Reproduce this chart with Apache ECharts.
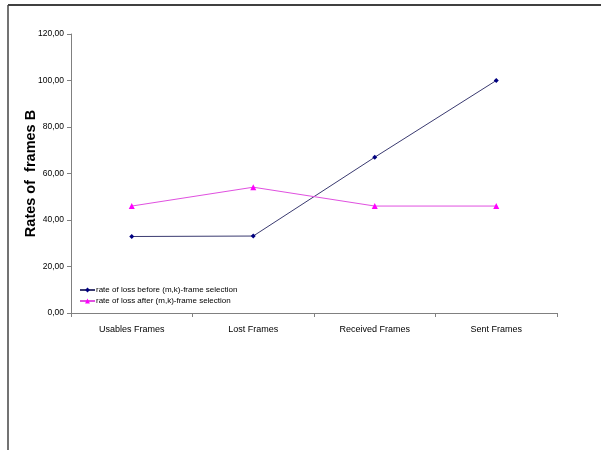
<!DOCTYPE html>
<html>
<head>
<meta charset="utf-8">
<script src="https://cdn.jsdelivr.net/npm/echarts@6/dist/echarts.min.js"></script>
<style>
  html, body { margin: 0; padding: 0; background: #fff; }
  #chart { width: 601px; height: 450px; }
</style>
</head>
<body>
<div id="chart"></div>
<script>
// Frame categories along the x axis
const categories = ['Usables Frames', 'Lost Frames', 'Received Frames', 'Sent Frames'];

// Loss rates before and after the (m,k)-frame selection
const lossBefore = [32.9, 33.1, 67.0, 100.0];
const lossAfter = [46.0, 54.1, 46.0, 46.0];

const seriesNames = [
  'rate of loss before (m,k)-frame selection',
  'rate of loss after (m,k)-frame selection'
];

// Y axis scale
const yMin = 0;
const yMax = 120;
const yStep = 20;

const chart = echarts.init(document.getElementById('chart'), null, { renderer: 'canvas' });

const baseFont = '"Liberation Sans", Arial, sans-serif';

chart.setOption({
  backgroundColor: '#ffffff',
  animation: false,
  graphic: [
    // frame around the chart area (top and left edges)
    { type: 'line', shape: { x1: 8, y1: 5, x2: 601, y2: 5 }, style: { stroke: '#000', lineWidth: 1.5 } },
    { type: 'line', shape: { x1: 8, y1: 5, x2: 8, y2: 450 }, style: { stroke: '#444', lineWidth: 1.5 } }
  ],
  grid: { left: 71, right: 44, top: 34, bottom: 137, containLabel: false },
  legend: {
    orient: 'vertical',
    left: 74,
    top: 281,
    itemGap: 3,
    itemWidth: 15,
    itemHeight: 6,
    textStyle: { fontFamily: baseFont, fontSize: 8, color: '#000', padding: [0, 0, 0, -4] },
    data: [seriesNames[0], seriesNames[1]]
  },
  xAxis: {
    type: 'category',
    data: categories,
    boundaryGap: true,
    axisLine: { lineStyle: { color: '#808080', width: 1 } },
    axisTick: { show: true, length: 4, lineStyle: { color: '#808080' } },
    axisLabel: { fontFamily: baseFont, fontSize: 9, color: '#000', margin: 12 },
    splitLine: { show: false }
  },
  yAxis: {
    type: 'value',
    min: yMin,
    max: yMax,
    interval: yStep,
    name: 'Rates of  frames B',
    nameLocation: 'middle',
    nameGap: 33,
    nameMoveOverlap: false,
    nameTextStyle: { fontFamily: baseFont, fontSize: 14.5, fontWeight: 'bold', color: '#000' },
    axisLine: { show: true, lineStyle: { color: '#808080', width: 1 } },
    axisTick: { show: true, length: 4, lineStyle: { color: '#808080' } },
    axisLabel: {
      fontFamily: baseFont,
      fontSize: 8.5,
      color: '#000',
      margin: 7,
      formatter: v => v.toFixed(2).replace('.', ',')
    },
    splitLine: { show: false }
  },
  series: [
    {
      name: seriesNames[0],
      type: 'line',
      data: lossBefore,
      symbol: 'diamond',
      symbolSize: 5,
      itemStyle: { color: '#000080' },
      lineStyle: { color: '#3a3a70', width: 1 }
    },
    {
      name: seriesNames[1],
      type: 'line',
      data: lossAfter,
      symbol: 'triangle',
      symbolSize: 6,
      itemStyle: { color: '#ff00ff' },
      lineStyle: { color: '#e050e0', width: 1 }
    }
  ]
});
</script>
</body>
</html>
